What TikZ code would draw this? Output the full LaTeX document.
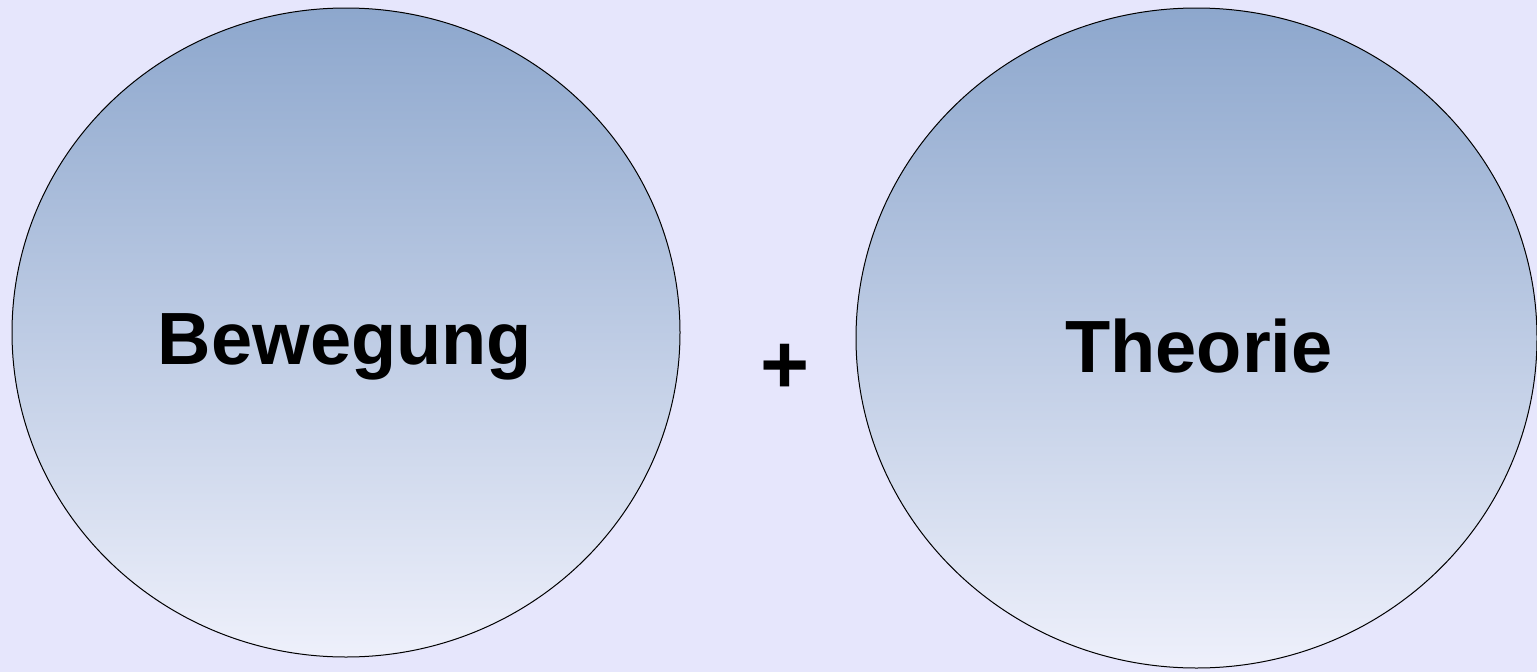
\documentclass[tikz,border=0pt]{standalone}
\usepackage{fontspec}
\setmainfont{Liberation Sans}
\definecolor{bgc}{HTML}{E6E6FC}
\definecolor{topc}{HTML}{8DA7CD}
\definecolor{botc}{HTML}{EEF0FB}
\begin{document}
\begin{tikzpicture}[x=1pt,y=-1pt,
  blob/.style={draw=black,line width=1pt,top color=topc,bottom color=botc},
  lbl/.style={font=\fontsize{74}{80}\selectfont\bfseries,anchor=base,inner sep=0pt}]
\fill[bgc] (0,0) rectangle (1537,672);
\useasboundingbox (0,0) rectangle (1537,672);
\path[blob] (346,332.5) ellipse [x radius=334, y radius=324.5];
\path[blob] (1196.5,338) ellipse [x radius=340.5, y radius=330];
\node[lbl] (bew) at (345,364) {Bewegung};
\node[lbl] (the) at (1199,372) {Theorie};
\node[lbl,font=\fontsize{84}{90}\selectfont\bfseries] (plus) at (785,393) {+};
\end{tikzpicture}
\end{document}
